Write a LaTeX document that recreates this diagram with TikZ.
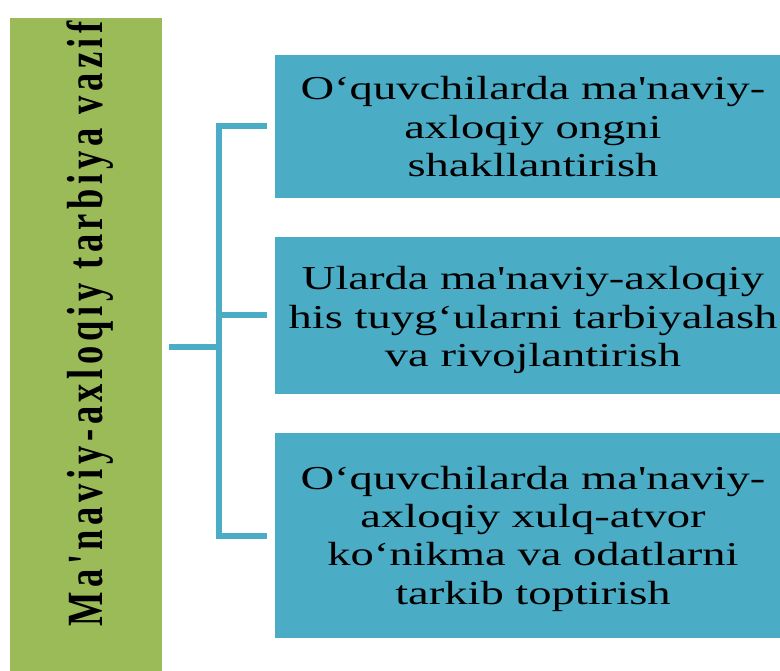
\documentclass[tikz,border=0pt]{standalone}
\usepackage{fontspec}
\usepackage{graphicx}
\setmainfont{Liberation Serif}[Ligatures=TeXOff]
\newfontfamily\boxfont{Liberation Serif}[Ligatures=TeXOff]
\newfontfamily\titlefont{Liberation Serif}[Ligatures=TeXOff,LetterSpace=12.7]
\definecolor{accblue}{HTML}{4BACC6}
\definecolor{accgreen}{HTML}{9BBB59}
\begin{document}
\begin{tikzpicture}[x=1pt,y=-1pt,
  bbox/.style={rectangle, fill=accblue, draw=none, minimum width=516pt, inner sep=0pt},
  btext/.style={inner sep=0pt, text=black, font=\boxfont\fontsize{33.5}{38.3}\selectfont},
  conn/.style={draw=accblue, line width=6pt}]
\useasboundingbox (0,0) rectangle (780,671);
\node[rectangle, fill=accgreen, minimum width=152.5pt, minimum height=658pt, inner sep=0pt] (title) at (85.75,347) {};
\node[rotate=90, anchor=base west, inner sep=0pt] (titletext) at (102,627)
  {\titlefont\bfseries\fontsize{36.5}{40}\selectfont\scalebox{1}[1.39]{Ma'naviy-axloqiy tarbiya vazif}};
\node[bbox, minimum height=143pt] (b1) at (533,126.5) {};
\node[bbox, minimum height=157pt] (b2) at (533,315.5) {};
\node[bbox, minimum height=205pt] (b3) at (533,535.5) {};
\node[btext] (t1) at ([yshift=-4pt]b1.center)
  {\scalebox{1.39}[1]{\begin{tabular}{@{}c@{}}O‘quvchilarda ma'naviy-\\axloqiy ongni\\shakllantirish\end{tabular}}};
\node[btext] (t2) at ([yshift=-5pt]b2.center)
  {\scalebox{1.39}[1]{\begin{tabular}{@{}c@{}}Ularda ma'naviy-axloqiy\\his tuyg‘ularni tarbiyalash\\va rivojlantirish\end{tabular}}};
\node[btext] (t3) at ([yshift=-3.5pt]b3.center)
  {\scalebox{1.39}[1]{\begin{tabular}{@{}c@{}}O‘quvchilarda ma'naviy-\\axloqiy xulq-atvor\\ko‘nikma va odatlarni\\tarkib toptirish\end{tabular}}};
\coordinate (spine) at (219,347);
\draw[conn] ([xshift=-8pt]b1.west) -| (spine) |- ([xshift=-8pt]b3.west);
\draw[conn] (spine |- b2.west) -- ([xshift=-8pt]b2.west);
\draw[conn] ([xshift=7pt]title.east) -- (spine);
\end{tikzpicture}
\end{document}
